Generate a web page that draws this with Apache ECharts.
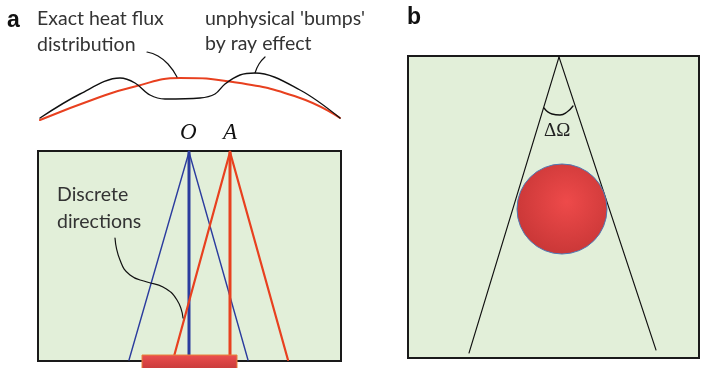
<!DOCTYPE html>
<html><head><meta charset="utf-8">
<script src="https://cdn.jsdelivr.net/npm/echarts@6/dist/echarts.min.js"></script>
<style>html,body{margin:0;padding:0;background:#fff}#c{width:701px;height:368px}</style>
</head><body><div id="c"></div>
<script>
// ---- diagram data (diagram units = 1 px on a 701 x 368 plane) ----
const exactFlux = [[40,120],[100,97],[133,87],[180,78],[233,82],[300,98],[340,118]];
const rayFlux = [[40,118],[80,94],[120,78],[135,83],[150,95],[165,99],[200,98],[215,94],[225,84],[240,75],[255,73],[300,90],[340,118]];
const leaderExact = [[147,52],[158,56],[168,64],[177,77]];
const leaderBumps = [[265,57],[259,64],[255,73]];
const leaderDirections = [[115,238],[120,260],[130,275],[147,282],[163,287],[177,300],[183,318]];
const pointO = [189,152];
const pointA = [230,152];
const blueRays = [[129,360],[189,360],[248,360]];
const redRays = [[173,360],[230,360],[288,360]];
const boxA = [38,151,341,361];
const boxB = [408,56,699,358];
const emitter = [142,355,237,369];
const coneApex = [559,57];
const coneEnds = [[469,353],[656,350]];
const sphere = [562,209,45];
const solidAngleArc = [[544,108],[552,114],[560,115],[567,112],[573,106]];
const panelLabels = ['a','b'];
const textLabels = ['Exact heat flux','distribution',"unphysical 'bumps'",'by ray effect','Discrete','directions'];
const pointLabels = ['O','A'];
const angleLabel = 'ΔΩ';

const chart = echarts.init(document.getElementById('c'), null, {renderer:'canvas'});

function rectSeries(d, style, z){
  return {type:'custom', z:z, data:[d], silent:true,
    renderItem:function(params, api){
      const p0 = api.coord([api.value(0), api.value(1)]);
      const p1 = api.coord([api.value(2), api.value(3)]);
      return {type:'rect', shape:{x:p0[0], y:p0[1], width:p1[0]-p0[0], height:p1[1]-p0[1]}, style:style};
    }};
}
function lineSeries(pts, color, width, smooth, z){
  return {type:'line', data:pts, smooth:smooth, symbol:'none', z:z, silent:true,
    lineStyle:{color:color, width:width, cap:'round', join:'round'}};
}
function rays(apex, ends, color, wThin, wThick, z){
  return ends.map(function(e, i){
    return lineSeries([apex, e], color, i===1 ? wThick : wThin, false, z);
  });
}
function textSeries(items, z){
  return {type:'custom', z:z, data:items.map(function(it){return [it[0], it[1], it[2]];}), silent:true,
    renderItem:function(params, api){
      const it = items[params.dataIndex];
      const p = api.coord([it[0], it[1]]);
      return {type:'text', x:p[0], y:p[1], style:Object.assign({text:it[2], textAlign:'left', textVerticalAlign:'middle'}, it[3])};
    }};
}

const sansFont = '19.5px Lato';
const series = [];
series.push(rectSeries(boxA, {fill:'#e2efd9', stroke:'#1a1a1a', lineWidth:2}, 1));
series.push(rectSeries(boxB, {fill:'#e2efd9', stroke:'#1a1a1a', lineWidth:2}, 1));
series.push(lineSeries(exactFlux, '#e8401f', 2, 0.5, 3));
series.push(lineSeries(rayFlux, '#111', 1.4, 0.35, 3));
series.push(lineSeries(leaderExact, '#111', 1.2, 0.5, 3));
series.push(lineSeries(leaderBumps, '#111', 1.2, 0.5, 3));
series.push(lineSeries(leaderDirections, '#111', 1.2, 0.5, 4));
rays(pointO, blueRays, '#2b3c9e', 1.4, 3, 3).forEach(function(s){series.push(s);});
rays(pointA, redRays, '#e8401f', 2.2, 3, 3).forEach(function(s){series.push(s);});
series.push(rectSeries(emitter, {
  fill:new echarts.graphic.LinearGradient(0,0,0,1,[{offset:0,color:'#ec4f4f'},{offset:1,color:'#c73a3a'}]),
  stroke:'#e8843a', lineWidth:1}, 6));
coneEnds.forEach(function(e){ series.push(lineSeries([coneApex, e], '#111', 1.1, false, 3)); });
series.push(lineSeries(solidAngleArc, '#111', 1.3, 0.5, 3));
series.push({type:'custom', z:5, data:[sphere], silent:true,
  renderItem:function(params, api){
    const c = api.coord([api.value(0), api.value(1)]);
    const r = api.size([api.value(2), 0])[0];
    return {type:'circle', shape:{cx:c[0], cy:c[1], r:r},
      style:{fill:new echarts.graphic.RadialGradient(0.55,0.42,0.6,[{offset:0,color:'#ee4a4a'},{offset:1,color:'#c93737'}]),
             stroke:'#4f79b5', lineWidth:1}};
  }});
series.push(textSeries([
  [7, 21, panelLabels[0], {font:'bold 23px "Liberation Sans"', fill:'#111'}],
  [407, 18, panelLabels[1], {font:'bold 23px "Liberation Sans"', fill:'#111'}],
  [37, 19, textLabels[0], {font:sansFont, fill:'#333'}],
  [37, 45, textLabels[1], {font:sansFont, fill:'#333'}],
  [205, 19, textLabels[2], {font:sansFont, fill:'#333'}],
  [205, 44, textLabels[3], {font:sansFont, fill:'#333'}],
  [57, 195, textLabels[4], {font:sansFont, fill:'#333'}],
  [57, 222, textLabels[5], {font:sansFont, fill:'#333'}],
  [180, 133, pointLabels[0], {font:'italic 23px "Liberation Serif"', fill:'#111'}],
  [223, 133, pointLabels[1], {font:'italic 23px "Liberation Serif"', fill:'#111'}],
  [544, 131, angleLabel, {font:'19px "Liberation Serif"', fill:'#222'}]
], 8));

chart.setOption({
  animation:false,
  grid:{left:0, right:0, top:0, bottom:0},
  xAxis:{type:'value', min:0, max:701, show:false},
  yAxis:{type:'value', min:0, max:368, inverse:true, show:false},
  series:series
});
</script></body></html>
